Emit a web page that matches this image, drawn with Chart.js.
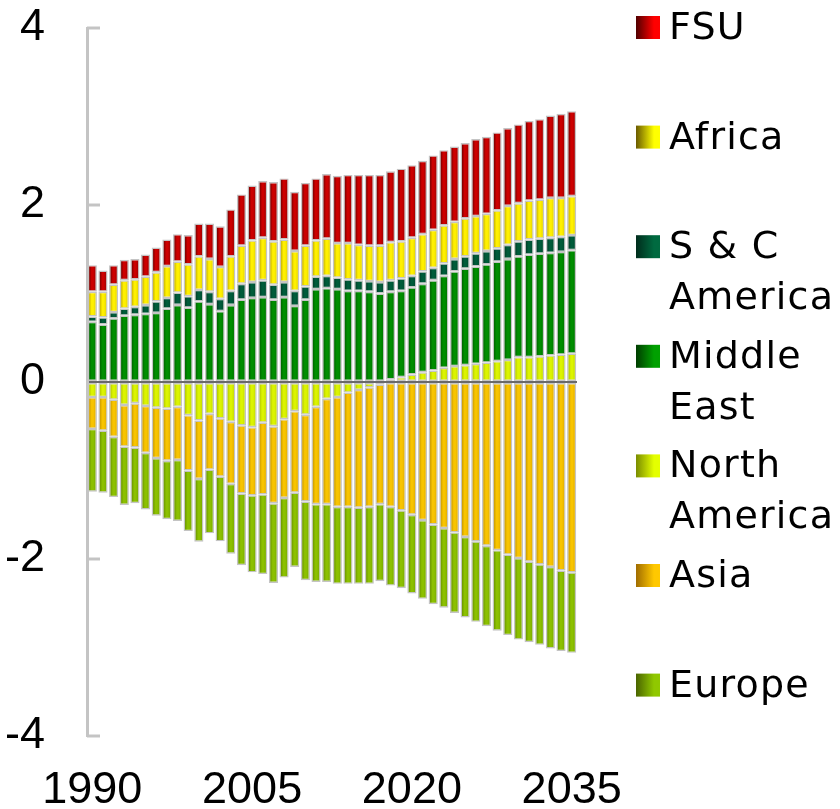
<!DOCTYPE html>
<html>
<head>
<meta charset="utf-8">
<script src="https://cdn.jsdelivr.net/npm/chart.js@4.4.1/dist/chart.umd.min.js"></script>
<style>
html, body { margin: 0; padding: 0; background: #fff; }
</style>
</head>
<body>
<canvas id="bar-chart" width="840" height="809"></canvas>
<script>
// years on the x axis, only some of them get a label
var years = [1990, 1991, 1992, 1993, 1994, 1995, 1996, 1997, 1998, 1999,
             2000, 2001, 2002, 2003, 2004, 2005, 2006, 2007, 2008, 2009,
             2010, 2011, 2012, 2013, 2014, 2015, 2016, 2017, 2018, 2019,
             2020, 2021, 2022, 2023, 2024, 2025, 2026, 2027, 2028, 2029,
             2030, 2031, 2032, 2033, 2034, 2035];
var labelYears = [1990, 2005, 2020, 2035];
var yTicks = [-4, -2, 0, 2, 4];

// net balances by region
var northAmerica = [-0.17, -0.17, -0.20, -0.26, -0.24, -0.27, -0.29, -0.30, -0.28, -0.375, -0.435, -0.36,
                    -0.41, -0.45, -0.49, -0.51, -0.46, -0.50, -0.42, -0.33, -0.37, -0.28, -0.19, -0.17,
                    -0.12, -0.09, -0.06, -0.03,
                    0.03, 0.055, 0.085, 0.11, 0.13, 0.16, 0.18, 0.19, 0.205, 0.22, 0.235, 0.25, 0.28, 0.28, 0.29, 0.30, 0.31, 0.32];
var middleEast = [0.68, 0.65, 0.72, 0.75, 0.76, 0.77, 0.78, 0.83, 0.87, 0.84, 0.91, 0.88,
                  0.80, 0.87, 0.93, 0.95, 0.96, 0.93, 0.96, 0.86, 0.93, 1.05, 1.06, 1.05,
                  1.03, 1.03, 1.02, 1.00,
                  0.99, 0.975, 0.985, 1.00, 1.02, 1.04, 1.07, 1.09, 1.10, 1.11, 1.125, 1.14, 1.14, 1.16, 1.16, 1.16, 1.16, 1.17];
var scAmerica = [0.06, 0.08, 0.07, 0.08, 0.09, 0.10, 0.13, 0.12, 0.14, 0.13, 0.13, 0.14,
                 0.14, 0.16, 0.18, 0.18, 0.19, 0.17, 0.17, 0.17, 0.15, 0.14, 0.14, 0.13,
                 0.13, 0.12, 0.12, 0.13,
                 0.13, 0.14, 0.13, 0.14, 0.14, 0.14, 0.14, 0.14, 0.15, 0.15, 0.15, 0.16, 0.17, 0.17, 0.17, 0.17, 0.17, 0.17];
var africa = [0.28, 0.29, 0.31, 0.32, 0.31, 0.32, 0.33, 0.36, 0.35, 0.36, 0.38, 0.37,
              0.36, 0.39, 0.43, 0.47, 0.48, 0.49, 0.48, 0.45, 0.46, 0.41, 0.42, 0.39,
              0.41, 0.40, 0.40, 0.41,
              0.43, 0.42, 0.43, 0.42, 0.43, 0.43, 0.42, 0.43, 0.42, 0.42, 0.43, 0.44, 0.43, 0.44, 0.44, 0.45, 0.44, 0.44];
var fsu = [0.30, 0.24, 0.22, 0.23, 0.23, 0.25, 0.28, 0.30, 0.31, 0.33, 0.37, 0.40,
           0.46, 0.53, 0.58, 0.62, 0.64, 0.67, 0.69, 0.67, 0.71, 0.70, 0.73, 0.76,
           0.77, 0.79, 0.80, 0.80,
           0.80, 0.82, 0.82, 0.83, 0.84, 0.85, 0.85, 0.85, 0.87, 0.87, 0.88, 0.88, 0.89, 0.90, 0.91, 0.93, 0.95, 0.96];
var asia = [-0.36, -0.38, -0.42, -0.47, -0.50, -0.53, -0.57, -0.59, -0.60, -0.625, -0.66, -0.63,
            -0.66, -0.70, -0.77, -0.77, -0.81, -0.87, -0.89, -0.92, -0.98, -1.10, -1.19, -1.24,
            -1.29, -1.33, -1.35, -1.35,
            -1.41, -1.45, -1.50, -1.56, -1.61, -1.65, -1.70, -1.75, -1.80, -1.85, -1.90, -1.95, -1.99, -2.03, -2.06, -2.09, -2.13, -2.15];
var europe = [-0.71, -0.70, -0.68, -0.66, -0.63, -0.64, -0.65, -0.66, -0.69, -0.685, -0.71, -0.72,
              -0.73, -0.79, -0.81, -0.87, -0.90, -0.90, -0.90, -0.84, -0.89, -0.88, -0.88, -0.87,
              -0.87, -0.86, -0.87, -0.87,
              -0.89, -0.88, -0.89, -0.89, -0.90, -0.90, -0.91, -0.91, -0.91, -0.91, -0.91, -0.91, -0.92, -0.91, -0.91, -0.92, -0.91, -0.91];

// legend, top to bottom
var legendLabels = ['FSU', 'Africa', ['S & C', 'America'], ['Middle', 'East'], ['North', 'America'], 'Asia', 'Europe'];
var legendColors = [['#500000', '#ff0000'], ['#6a5a00', '#ffff00'], ['#002c1c', '#006a40'], ['#003c00', '#00a000'],
                    ['#7a8c00', '#e4ff00'], ['#a06c00', '#ffc800'], ['#4a6400', '#90c800']];

var BAR_PCT = 0.86;

function barFill(dark, bright, mid) {
	return function(ctx) {
		var chart = ctx.chart, xs = chart.scales.x;
		if (!chart.chartArea || ctx.dataIndex === undefined || !xs) return bright;
		var cx = xs.getPixelForValue(ctx.dataIndex);
		var hw = (xs.width / years.length) * BAR_PCT / 2;
		var g = chart.ctx.createLinearGradient(cx - hw, 0, cx + hw, 0);
		g.addColorStop(0, dark);
		g.addColorStop(0.42, bright);
		g.addColorStop(0.6, bright);
		g.addColorStop(1, mid);
		return g;
	};
}

function series(label, data, dark, bright, mid) {
	return {
		label: label,
		data: data,
		backgroundColor: barFill(dark, bright, mid),
		borderColor: '#c4c4c4',
		borderWidth: 1.4,
		borderSkipped: false,
		categoryPercentage: 1,
		barPercentage: BAR_PCT
	};
}

// inward y ticks and the side legend
var sideBits = {
	id: 'sideBits',
	afterDraw: function(chart) {
		var c = chart.ctx, ys = chart.scales.y, left = chart.chartArea.left;
		c.save();
		c.strokeStyle = '#c4c4c4';
		c.lineWidth = 3;
		yTicks.forEach(function(v) {
			if (v === 0) return;
			var py = ys.getPixelForValue(v);
			c.beginPath();
			c.moveTo(left, py);
			c.lineTo(left + 13, py);
			c.stroke();
		});

		c.font = '38px "DejaVu Sans"';
		c.letterSpacing = '1.2px';
		c.textBaseline = 'alphabetic';
		legendLabels.forEach(function(lab, i) {
			var base = 39 + i * 109.6;
			var g = c.createLinearGradient(636, 0, 660, 0);
			g.addColorStop(0, legendColors[i][0]);
			g.addColorStop(0.75, legendColors[i][1]);
			g.addColorStop(1, legendColors[i][1]);
			c.fillStyle = g;
			c.fillRect(636, base - 23, 24, 23);
			c.fillStyle = '#000';
			var lines = Array.isArray(lab) ? lab : [lab];
			lines.forEach(function(t, j) {
				c.fillText(t, 669, base + j * 51);
			});
		});
		c.restore();
	}
};

var axisFont = { family: '"Liberation Sans", Arial, sans-serif', size: 45, lineHeight: 1.1 };

new Chart(document.getElementById('bar-chart'), {
	type: 'bar',
	data: {
		labels: years,
		datasets: [
			series('North America', northAmerica, '#9cb000', '#dcf400', '#b8d000'),
			series('Middle East', middleEast, '#004c00', '#008e00', '#006a00'),
			series('S & C America', scAmerica, '#002c1c', '#005c3a', '#00442a'),
			series('Africa', africa, '#a89000', '#fff000', '#d8c800'),
			series('FSU', fsu, '#4a0000', '#cc0000', '#8c0000'),
			series('Asia', asia, '#b08400', '#f8c400', '#d8a400'),
			series('Europe', europe, '#587e00', '#8cc000', '#70a000')
		]
	},
	options: {
		responsive: false,
		animation: false,
		layout: { padding: { top: 28, right: 263, left: 0, bottom: 0 } },
		plugins: {
			legend: { display: false },
			tooltip: { enabled: false }
		},
		scales: {
			x: {
				stacked: true,
				grid: { display: false },
				border: { display: false },
				ticks: {
					autoSkip: false,
					maxRotation: 0,
					color: '#000',
					font: axisFont,
					padding: 22,
					callback: function(v, i) {
						return labelYears.indexOf(years[i]) >= 0 ? String(years[i]) : '';
					}
				},
				afterFit: function(s) { s.height = 73; }
			},
			y: {
				stacked: true,
				min: -4,
				max: 4,
				grid: {
					z: 1,
					drawTicks: true,
					tickLength: 42,
					tickColor: 'rgba(0,0,0,0)',
					color: function(ctx) { return ctx.tick && ctx.tick.value === 0 ? '#6a6a6a' : 'rgba(0,0,0,0)'; },
					lineWidth: 2
				},
				border: { display: true, color: '#c4c4c4', width: 3, z: 2 },
				ticks: {
					stepSize: 2,
					color: '#000',
					font: axisFont,
					padding: 0
				},
				afterFit: function(s) { s.width = 87; }
			}
		}
	},
	plugins: [sideBits]
});
</script>
</body>
</html>
